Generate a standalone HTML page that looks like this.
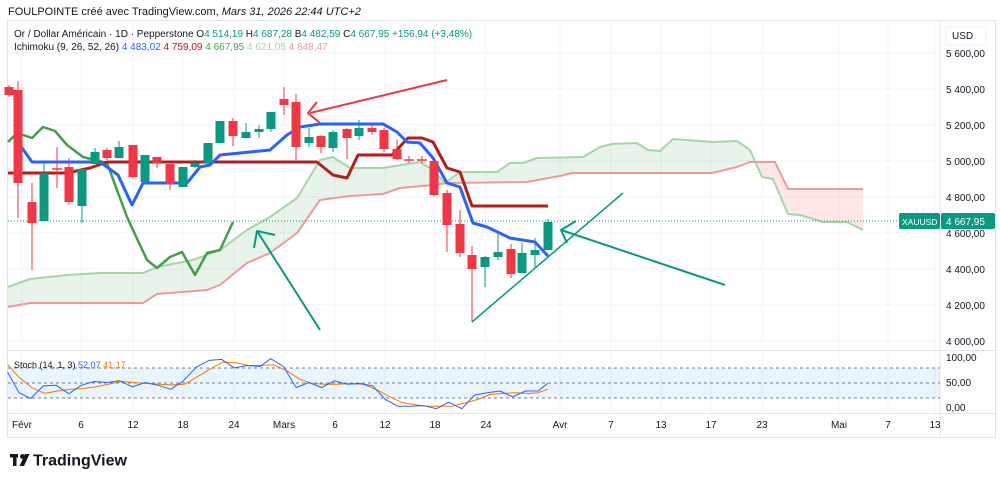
<!DOCTYPE html>
<html><head><meta charset="utf-8"><style>
body{margin:0;background:#fff;width:1000px;height:484px;overflow:hidden;font-family:"Liberation Sans",sans-serif}
svg{position:absolute;left:0;top:0}
text{font-family:"Liberation Sans",sans-serif}
</style></head><body>
<svg id="s" width="1000" height="484" viewBox="0 0 1000 484">
<rect x="0" y="0" width="1000" height="484" fill="#fff"/>
<rect x="7.5" y="20.5" width="988" height="417" fill="none" stroke="#e0e3eb"/>
<line x1="940" y1="20" x2="940" y2="437" stroke="#e0e3eb"/>
<line x1="8" y1="350.5" x2="995" y2="350.5" stroke="#e0e3eb"/>
<line x1="8" y1="413.5" x2="995" y2="413.5" stroke="#e0e3eb"/>
<g id="grid"></g>
<g id="cloud"></g>
<g id="lines"></g>
<g id="candles"></g>
<g id="anno"></g>
<g id="stoch"></g>
<text x="8" y="15" font-size="11" fill="#131722">FOULPOINTE créé avec TradingView.com, <tspan font-style="italic">Mars 31, 2026 22:44 UTC+2</tspan></text>
<text x="14" y="37" font-size="10" fill="#131722">Or / Dollar Américain · 1D · Pepperstone <tspan>O</tspan><tspan fill="#089981">4 514,19</tspan> H<tspan fill="#089981">4 687,28</tspan> B<tspan fill="#089981">4 482,59</tspan> C<tspan fill="#089981">4 667,95</tspan> <tspan fill="#089981">+156,94 (+3,48%)</tspan></text>
<text x="14" y="50" font-size="10" fill="#131722">Ichimoku (9, 26, 52, 26) <tspan fill="#2962ff">4 483,02</tspan> <tspan fill="#b71c1c">4 759,09</tspan> <tspan fill="#43a047">4 667,95</tspan> <tspan fill="#a5d6a7">4 621,05</tspan> <tspan fill="#ef9a9a">4 848,47</tspan></text>
<rect x="946" y="27" width="40" height="18" rx="3" fill="#fff" stroke="#eceff4"/>
<text x="952" y="39" font-size="10" fill="#131722">USD</text>
<g font-size="10" fill="#131722" id="pax"></g>
<rect x="899" y="213" width="41" height="16" rx="2" fill="#089981"/>
<text x="902" y="225" font-size="8.5" fill="#fff">XAUUSD</text>
<rect x="941" y="213" width="54" height="16" rx="2" fill="#089981"/>
<text x="946" y="225" font-size="10" fill="#fff">4 667,95</text>
<text x="14" y="368" font-size="9" fill="#131722">Stoch (14, 1, 3) <tspan fill="#2962ff">52,07</tspan> <tspan fill="#f57c00">41,17</tspan></text>
<g font-size="10" fill="#131722">
<text x="946" y="361">100,00</text><text x="946" y="386">50,00</text><text x="946" y="411">0,00</text>
</g>
<g font-size="10" fill="#131722" id="dax"></g>
<g transform="translate(10,452)"><rect x="0" y="2" width="8" height="3.5" fill="#131722"/><rect x="3" y="2" width="3.5" height="12" fill="#131722"/><circle cx="12.5" cy="4.5" r="2.4" fill="#131722"/><polygon points="15,2 19.5,2 14,14 9.5,14" fill="#131722"/>
<text x="23" y="13.5" font-size="16" font-weight="bold" fill="#131722">TradingView</text></g>
</svg>
<script>
const NS="http://www.w3.org/2000/svg";
function el(p,t,a){const e=document.createElementNS(NS,t);for(const k in a)e.setAttribute(k,a[k]);p.appendChild(e);return e;}
const $=id=>document.getElementById(id);
const py=p=>53+(5600-p)*0.18;
const dates=[["Févr",22],["6",81],["12",133],["18",183],["24",234],["Mars",284],["6",335],["12",385],["18",435],["24",486],["Avr",560],["7",611],["13",661],["17",711],["23",762],["Mai",839],["7",888],["13",935]];
dates.forEach(d=>{el($("grid"),"line",{x1:d[1],x2:d[1],y1:21,y2:413,stroke:"#f0f3fa"});const t=el($("dax"),"text",{x:d[1],y:428,"text-anchor":"middle"});t.textContent=d[0];});
for(let p=4000;p<=5600;p+=200){const y=py(p);el($("grid"),"line",{x1:8,x2:940,y1:y,y2:y,stroke:"#f0f3fa"});const t=el($("pax"),"text",{x:946,y:y+4});t.textContent=(p+"").slice(0,1)+" "+(p+"").slice(1)+",00";}
const L=(pts,c,w,g)=>el($(g||"lines"),"polyline",{points:pts.map(p=>p.join(",")).join(" "),fill:"none",stroke:c,"stroke-width":w,"stroke-linejoin":"round"});
const A=[[8,287],[30,279],[67,275],[100,273],[143,273],[157,267],[193,260],[220,250],[247,230],[270,217],[297,198],[320,160],[333,157],[350,168],[383,168],[420,162],[433,170],[445,183],[460,172],[497,172],[510,163],[523,163],[537,158],[583,157],[600,147],[612,144],[637,143],[648,150],[660,151],[673,139],[713,142],[737,141],[750,150],[762,177],[773,179],[788,214],[800,215],[823,222],[847,222],[863,230]];
const B=[[8,307],[30,303],[143,303],[157,294],[207,290],[220,285],[247,263],[270,253],[297,233],[320,200],[350,196],[383,194],[400,188],[433,185],[447,183],[527,182],[560,176],[572,173],[712,173],[737,167],[750,162],[775,162],[788,189],[863,189]];
function interp(arr,x){for(let i=0;i<arr.length-1;i++){if(x>=arr[i][0]&&x<=arr[i+1][0]){const t=(x-arr[i][0])/(arr[i+1][0]-arr[i][0]||1);return arr[i][1]+t*(arr[i+1][1]-arr[i][1]);}}return arr[arr.length-1][1];}
let gp=[],gb=[],rp=[],rb=[];const cx=757;
for(let x=8;x<=863;x+=1){const a=interp(A,x),b=interp(B,x);if(x<=cx){gp.push([x,a]);gb.unshift([x,b]);}if(x>=cx){rp.push([x,a]);rb.unshift([x,b]);}}
el($("cloud"),"polygon",{points:gp.concat(gb).map(p=>p.join(",")).join(" "),fill:"rgba(67,160,71,0.12)"});
el($("cloud"),"polygon",{points:rp.concat(rb).map(p=>p.join(",")).join(" "),fill:"rgba(244,67,54,0.12)"});
L(A,"#a5d6a7",2,"cloud");L(B,"#ef9a9a",2,"cloud");
L([[8,142],[17,133],[32,138],[43,127],[55,131],[67,145],[83,157],[107,163],[127,217],[147,260],[157,268],[170,257],[182,252],[195,275],[207,253],[220,250],[233,222]],"#43a047",2.5);
L([[8,173],[67,173],[90,168],[107,162],[317,162],[333,175],[347,178],[358,155],[392,155],[408,138],[422,138],[433,142],[447,168],[460,172],[472,206],[548,206]],"#b71c1c",3);
L([[20,145],[32,162],[100,162],[118,175],[132,205],[143,183],[187,183],[200,167],[210,165],[220,155],[270,150],[287,135],[300,127],[320,124],[383,124],[397,132],[407,142],[420,143],[433,158],[447,183],[460,187],[473,223],[487,227],[510,238],[535,242],[548,256]],"#2962ff",3);
el($("lines"),"line",{x1:8,x2:900,y1:221,y2:221,stroke:"#089981","stroke-dasharray":"1 2","stroke-width":1});
const C=[[9,0,87,95,85,97],[18,0,90,183,81,218],[32,0,202,223,183,270],[44,1,173,221,163,221],[57,2,169,169,147,188],[69,0,167,202,158,205],[82,1,169,206,169,223],[95,1,152,164,148,164],[107,0,150,158,148,160],[119,1,147,158,141,158],[133,0,145,177,145,178],[145,1,155,182,155,182],[157,0,157,163,157,168],[170,0,164,184,162,190],[183,1,167,187,167,187],[195,1,163,167,160,168],[208,1,143,163,143,163],[220,1,121,143,121,143],[233,0,121,136,118,146],[246,1,132,138,123,138],[259,1,129,132,125,138],[271,1,112,129,112,132],[284,0,99,105,87,115],[296,0,102,147,94,160],[309,1,137,143,128,147],[321,0,136,147,135,153],[333,1,132,148,130,152],[347,0,129,138,128,159],[359,1,128,136,120,140],[372,0,128,132,123,135],[384,0,130,149,128,152],[397,0,149,159,140,160],[409,2,160,160,156,163],[422,2,160,160,156,163],[434,0,161,195,160,196],[447,0,193,225,190,252],[460,0,224,253,210,257],[472,0,255,269,246,322],[485,1,257,267,256,287],[498,1,252,257,234,260],[511,0,249,274,244,278],[522,1,253,273,243,273],[535,1,250,255,238,267],[548,1,222,250,219,250]];
C.forEach(c=>{const col=c[1]==1?"#089981":"#f23645";const g=$("candles");
el(g,"line",{x1:c[0],x2:c[0],y1:c[4],y2:c[5],stroke:col,"stroke-width":1});
if(c[1]==2){el(g,"line",{x1:c[0]-5,x2:c[0]+5,y1:c[2],y2:c[2],stroke:"#f23645","stroke-width":1.5});}
else el(g,"rect",{x:c[0]-4.5,y:c[2],width:9,height:Math.max(1.5,c[3]-c[2]),fill:col});});
L([[447,80],[310,113]],"#f23645",2,"anno");L([[317,102],[308,113],[320,123]],"#f23645",2,"anno");
L([[320,330],[257,231]],"#089981",2,"anno");L([[254,248],[257,231],[275,235]],"#089981",2,"anno");
L([[472,322],[623,193]],"#089981",1.5,"anno");
L([[725,285],[561,230]],"#089981",2,"anno");L([[576,221],[561,230],[567,243]],"#089981",2,"anno");
const st=$("stoch");
el(st,"rect",{x:8,y:368,width:932,height:30,fill:"rgba(33,150,243,0.1)"});
[368,383,398].forEach(y=>el(st,"line",{x1:8,x2:940,y1:y,y2:y,stroke:"#787b86","stroke-dasharray":"3 3","stroke-width":1}));
const K=[[12,95],[30,155],[48,172],[68,135],[88,133],[108,158],[128,133],[148,122],[168,125],[188,120],[208,138],[228,125],[248,133],[268,145],[288,120],[308,80],[328,60],[348,57],[368,82],[388,75],[408,78],[425,55],[445,78],[465,140],[485,125],[505,140],[525,120],[545,130],[565,128],[585,135],[605,175],[625,195],[645,195],[665,193],[685,202],[705,183],[725,202],[745,162],[765,155],[785,150],[805,167],[825,150],[845,150],[860,127]];
const D=[[12,72],[30,110],[50,140],[70,157],[90,150],[110,145],[130,143],[150,138],[170,130],[190,122],[210,125],[230,128],[250,130],[270,132],[290,130],[310,108],[330,85],[350,65],[370,67],[390,75],[410,75],[430,73],[450,90],[470,115],[490,128],[510,130],[530,130],[550,128],[570,130],[590,145],[610,165],[630,183],[650,190],[670,195],[690,195],[710,195],[730,185],[750,175],[770,160],[790,157],[810,155],[830,157],[845,155],[860,145]];
const tr=a=>a.map(p=>[(p[0]/1.57).toFixed(1),(340+p[1]/2.94).toFixed(1)]);
L(tr(D),"#f57c00",1,"stoch");L(tr(K),"#2962ff",1,"stoch");
</script>
</body></html>
